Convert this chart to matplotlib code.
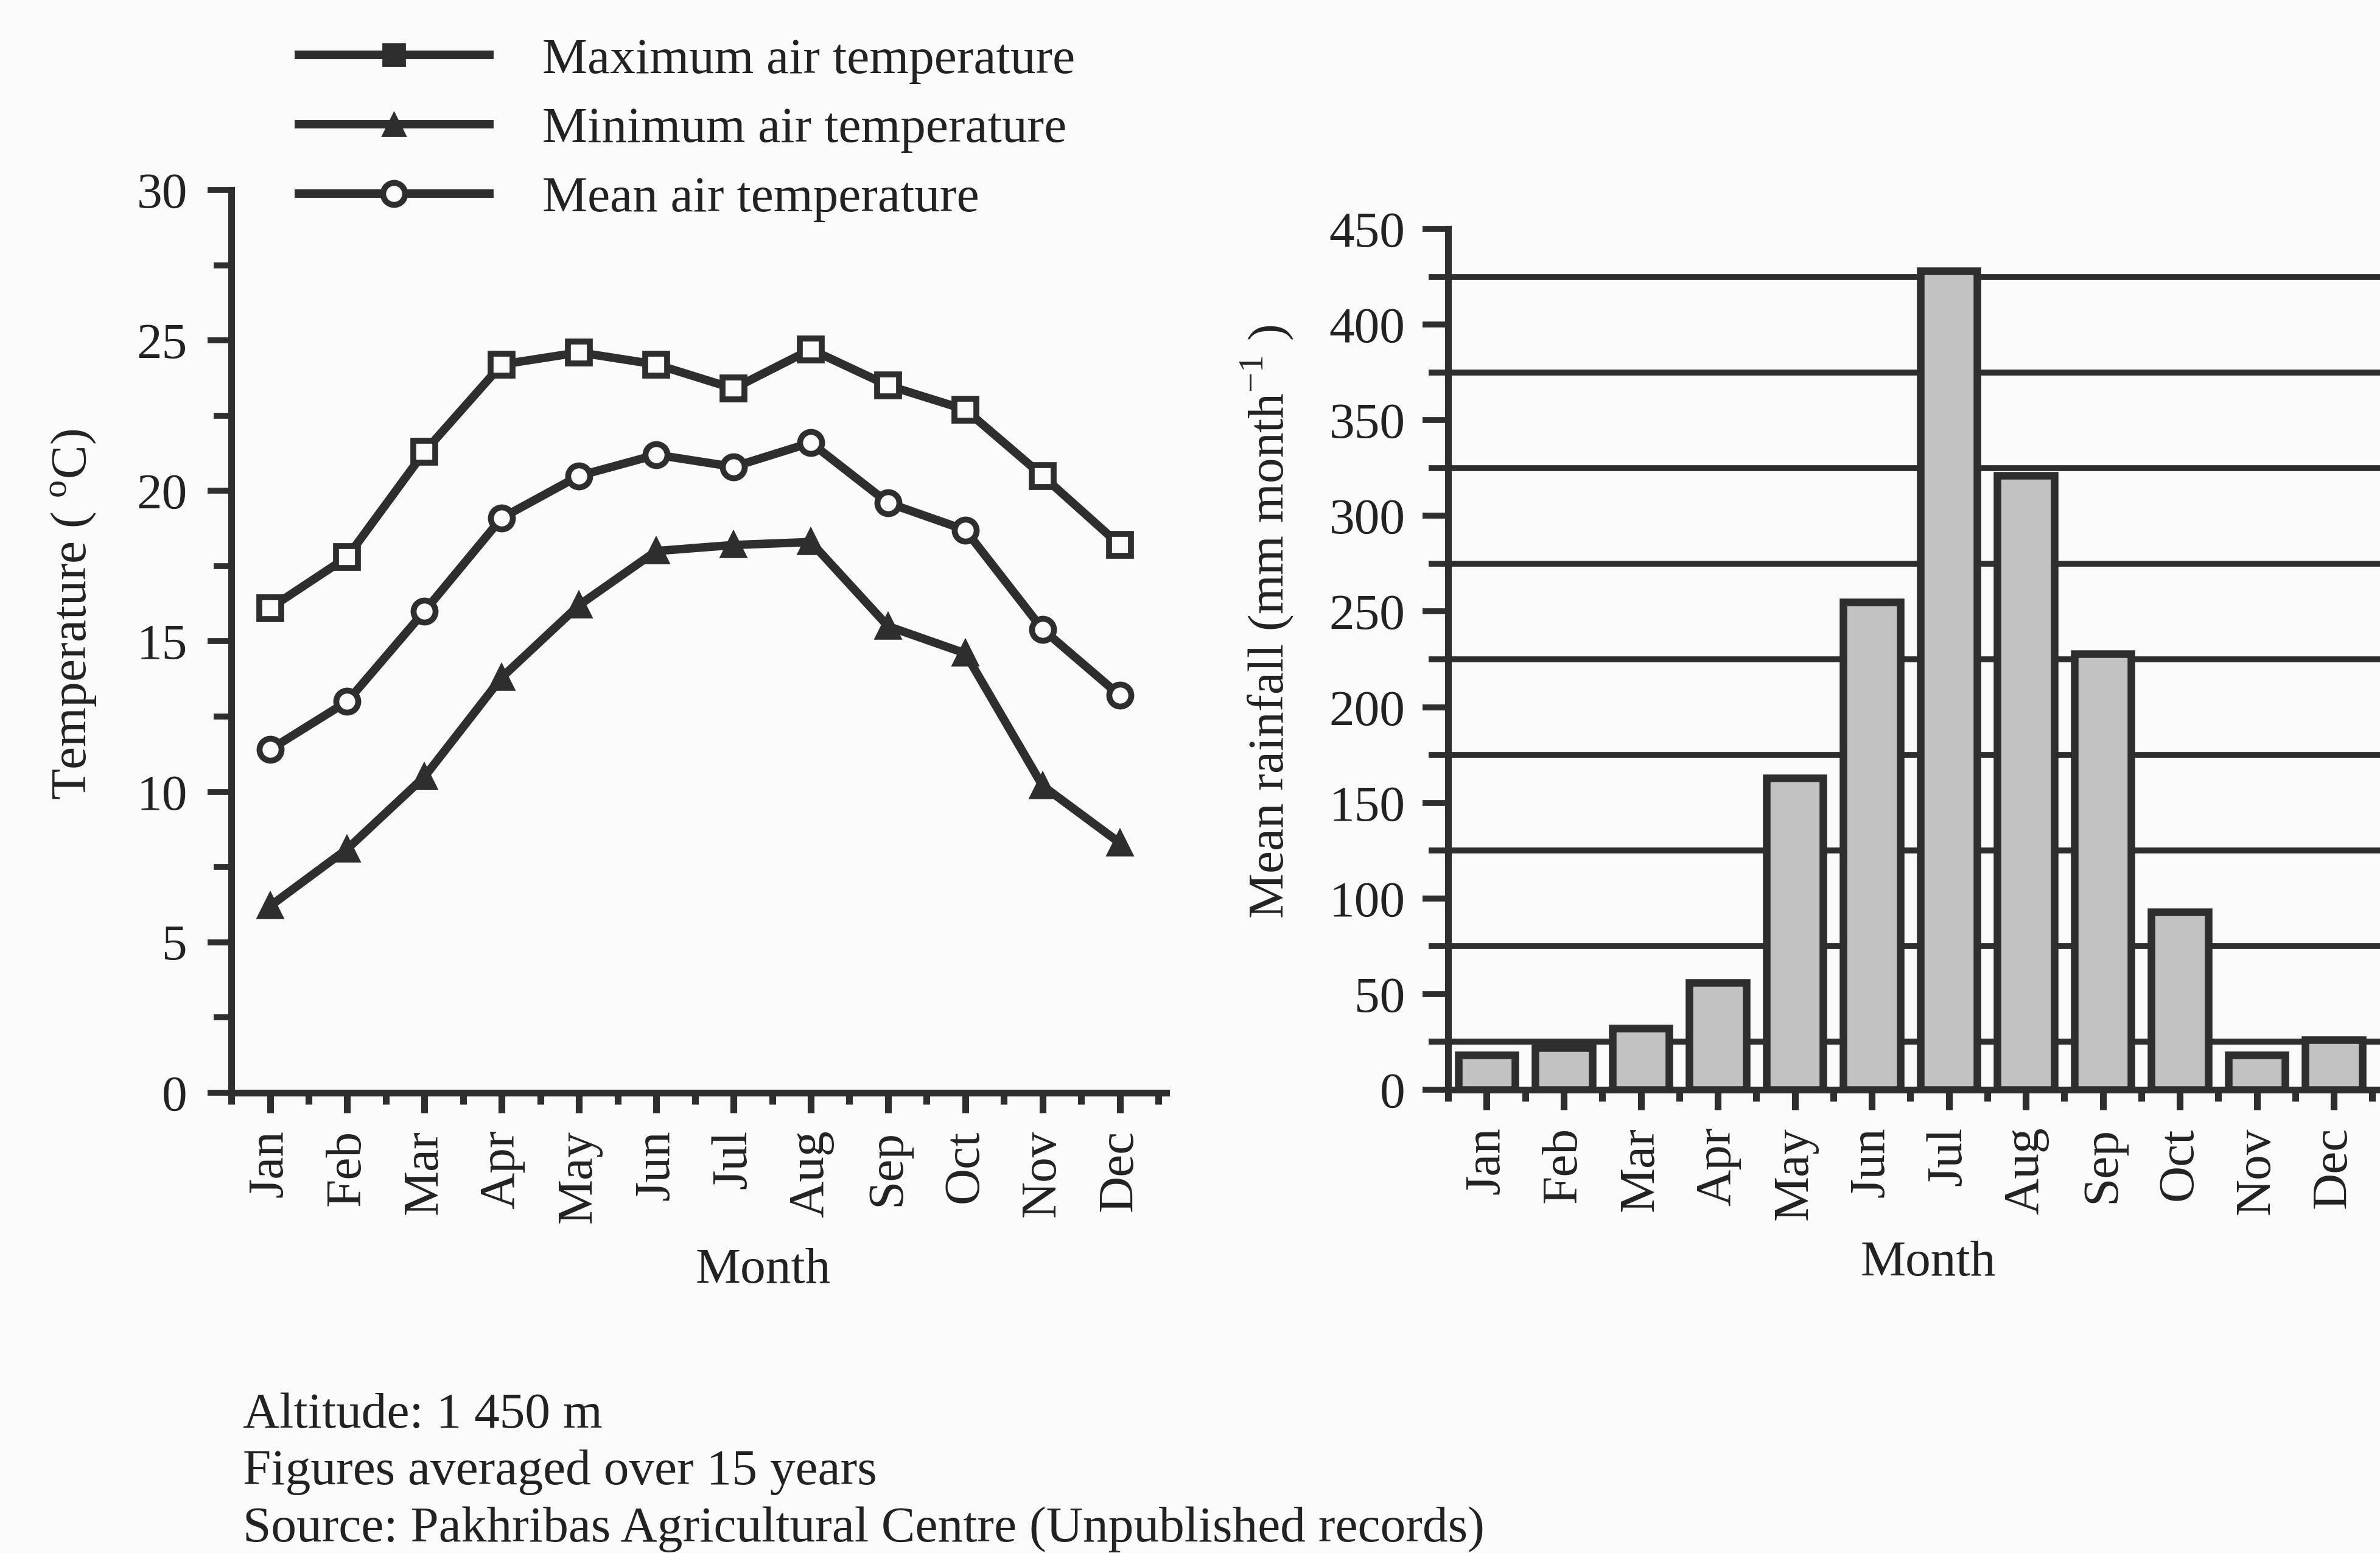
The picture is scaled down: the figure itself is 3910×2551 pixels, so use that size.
import matplotlib
matplotlib.use("Agg")
import matplotlib.pyplot as plt
from matplotlib.lines import Line2D
import numpy as np

plt.rcParams['font.family'] = ['Liberation Serif', 'DejaVu Serif']
plt.rcParams['mathtext.fontset'] = 'custom'
plt.rcParams['mathtext.rm'] = 'Liberation Serif'

months = ['Jan', 'Feb', 'Mar', 'Apr', 'May', 'Jun',
          'Jul', 'Aug', 'Sep', 'Oct', 'Nov', 'Dec']
t_max = [16.1, 17.8, 21.3, 24.2, 24.6, 24.2, 23.4, 24.7, 23.5, 22.7, 20.5, 18.2]
t_min = [6.2, 8.1, 10.5, 13.8, 16.2, 18.0, 18.2, 18.3, 15.5, 14.6, 10.2, 8.3]
t_mean = [11.4, 13.0, 16.0, 19.1, 20.5, 21.2, 20.8, 21.6, 19.6, 18.7, 15.4, 13.2]
rainfall = [18, 22, 32, 56, 163, 255, 428, 321, 228, 93, 18, 26]

notes = ['Altitude: 1 450 m',
         'Figures averaged over 15 years',
         'Source: Pakhribas Agricultural Centre (Unpublished records)']

ink = '#2e2e2e'
txt = '#222222'
bg = '#fafafa'
fs = 30

fig = plt.figure(figsize=(19.55, 12.755), dpi=200, facecolor=bg)
x = np.arange(len(months))


def style_axes(ax, major_len, minor_len, ypad):
    ax.set_facecolor(bg)
    for side in ('top', 'right'):
        ax.spines[side].set_visible(False)
    for side in ('left', 'bottom'):
        ax.spines[side].set_linewidth(4)
        ax.spines[side].set_color(ink)
    ax.set_xlim(-0.5, 11.6)
    ax.set_xticks(x)
    ax.set_xticks(np.arange(-0.5, 12, 1.0), minor=True)
    ax.set_xticklabels(months, rotation=90, fontsize=fs)
    ax.tick_params(axis='x', which='major', length=12, width=4, color=ink,
                   pad=10, labelcolor=txt)
    ax.tick_params(axis='x', which='minor', length=7, width=4, color=ink)
    ax.tick_params(axis='y', which='major', length=major_len, width=3.5,
                   color=ink, pad=ypad, labelsize=fs, labelcolor=txt)
    ax.tick_params(axis='y', which='minor', length=minor_len, width=3.5,
                   color=ink)
    ax.set_xlabel('Month', fontsize=fs, color=txt)


# temperature panel
ax1 = fig.add_axes([0.0972, 0.2964, 0.3928, 0.5813])
style_axes(ax1, 14, 10.5, 12)
ax1.plot(x, t_max, color=ink, lw=5, marker='s', ms=13, mew=3.5,
         mfc=bg, mec=ink, zorder=3)
ax1.plot(x, t_mean, color=ink, lw=5, marker='o', ms=13, mew=3.5,
         mfc=bg, mec=ink, zorder=3)
ax1.plot(x, t_min, color=ink, lw=5, marker='^', ms=14, mew=2,
         mfc=ink, mec=ink, zorder=3)
ax1.set_ylim(0, 30)
ax1.set_yticks(np.arange(0, 31, 5))
ax1.set_yticks(np.arange(2.5, 30, 5), minor=True)
ax1.set_ylabel('Temperature ( $^{\\mathrm{o}}$C)', fontsize=fs, color=txt)
ax1.yaxis.set_label_coords(-0.142, 0.53)
ax1.xaxis.set_label_coords(0.569, -0.172)

handles = [
    Line2D([], [], color=ink, lw=5, marker='s', ms=13, mfc=ink, mec=ink),
    Line2D([], [], color=ink, lw=5, marker='^', ms=14, mfc=ink, mec=ink),
    Line2D([], [], color=ink, lw=5, marker='o', ms=13, mew=3.5, mfc=bg, mec=ink),
]
labels = ['Maximum air temperature', 'Minimum air temperature',
          'Mean air temperature']
fig.legend(handles, labels, loc='upper left', bbox_to_anchor=(0.1256, 0.976),
           frameon=False, fontsize=fs, handlelength=3.75, handletextpad=1.05,
           labelspacing=0.45, borderpad=0, borderaxespad=0,
           labelcolor=txt)

# rainfall panel
ax2 = fig.add_axes([0.6085, 0.2983, 0.3915, 0.5543])
style_axes(ax2, 15, 11.5, 10.5)
ax2.bar(x, rainfall, width=0.74, color='#c2c2c2', edgecolor=ink,
        linewidth=4.5, zorder=3)
ax2.set_ylim(0, 450)
ax2.set_yticks(np.arange(0, 451, 50))
ax2.set_yticks(np.arange(25, 450, 50), minor=True)
ax2.grid(which='minor', axis='y', color=ink, lw=3.5)
ax2.set_axisbelow(True)
ax2.set_ylabel('Mean rainfall (mm month$^{\\mathrm{-1}}$ )', fontsize=fs,
               color=txt)
ax2.yaxis.set_label_coords(-0.164, 0.544)
ax2.xaxis.set_label_coords(0.515, -0.175)

for i, line in enumerate(notes):
    fig.text(0.102, 0.0885 - i * 0.0366, line, fontsize=fs,
             va='center', ha='left', color=txt)

fig.savefig('out.png', dpi=200, facecolor=bg)
